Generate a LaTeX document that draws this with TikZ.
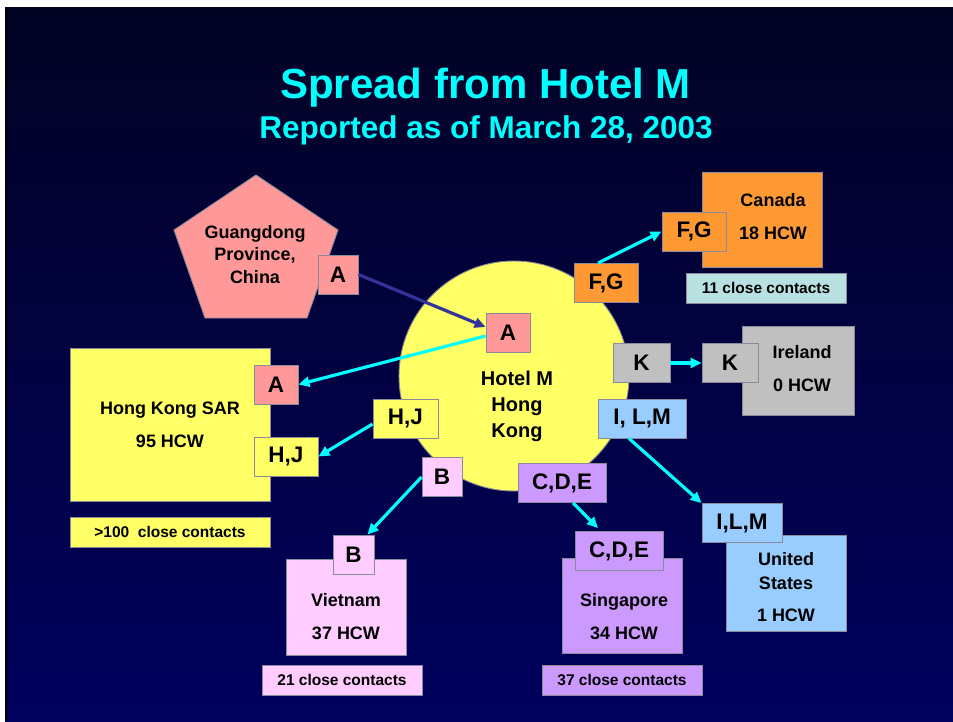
\documentclass[tikz,border=0pt]{standalone}
\usepackage{fontspec}
\setmainfont{Liberation Sans}
\usetikzlibrary{arrows.meta}
\definecolor{sarsNavyTop}{HTML}{030324}
\definecolor{sarsNavyBot}{HTML}{00005E}
\definecolor{sarsCyan}{HTML}{00FFFF}
\definecolor{sarsSalmon}{HTML}{FF9999}
\definecolor{sarsYellow}{HTML}{FFFF66}
\definecolor{sarsPink}{HTML}{FFCCFF}
\definecolor{sarsLilac}{HTML}{CC99FF}
\definecolor{sarsOrange}{HTML}{FF9933}
\definecolor{sarsGrey}{HTML}{C0C0C0}
\definecolor{sarsSky}{HTML}{99CCFF}
\definecolor{sarsMint}{HTML}{B9E1E1}
\definecolor{sarsEdge}{HTML}{8A8A9A}
\definecolor{sarsIndigo}{HTML}{333399}
\begin{document}
\begin{tikzpicture}[x=1pt,y=-1pt,>={Triangle[length=11pt,width=10pt]}]
\useasboundingbox (0,0) rectangle (953,721);
\path[fill=white] (0,0) rectangle (953,721);
\shade[top color=sarsNavyTop,bottom color=sarsNavyBot] (5,7) rectangle (953,721); \path[fill=black] (5,7) rectangle (7,721);
\tikzset{tag/.style={draw=sarsEdge,line width=0.9pt,inner sep=0pt,minimum height=39pt,font=\bfseries\fontsize{22.5}{26}\selectfont},region/.style={draw=sarsEdge,line width=0.9pt,inner sep=0pt},contacts/.style={draw=sarsEdge,line width=0.9pt,inner sep=0pt,minimum height=30pt,font=\bfseries\fontsize{15.5}{18}\selectfont},caption/.style={inner sep=0pt,align=center,font=\bfseries\fontsize{18}{33}\selectfont},spread/.style={draw=sarsCyan,line width=3.2pt}}
\node[anchor=base,text=sarsCyan,font=\bfseries\fontsize{42}{48}\selectfont] (title) at (485.5,98) {Spread from Hotel M};
\node[anchor=base,text=sarsCyan,font=\bfseries\fontsize{31.5}{36}\selectfont] (subtitle) at (486,138) {Reported as of March 28, 2003};
\draw[draw=sarsEdge,fill=sarsSalmon,line width=0.9pt] (256,175) -- (338,230) -- (307,318) -- (205,318) -- (174,230) -- cycle;
\node[caption,font=\bfseries\fontsize{18}{22.5}\selectfont] (gdText) at (255,254.5) {Guangdong\\Province,\\China};
\node[tag,fill=sarsSalmon,minimum width=40pt] (gdA) at (338,274.5) {A};
\node[circle,draw=sarsEdge,fill=sarsYellow,line width=0.9pt,minimum size=230pt,inner sep=0pt] (hotel) at (514,376) {};
\node[inner sep=0pt,align=center,font=\bfseries\fontsize{20}{26}\selectfont] (hotelText) at (517,406) {Hotel M\\Hong\\Kong};
\node[region,fill=sarsYellow,minimum width=200pt,minimum height=153pt] (hk) at (170,424.5) {}; \node[caption] (hkText) at (170,425) {Hong Kong SAR\\95 HCW};
\node[contacts,fill=sarsYellow,minimum width=200pt] (hkContacts) at (170,532) {>100~ close contacts};
\node[tag,fill=sarsSalmon,minimum width=44pt] (hkA) at (276,384.5) {A}; \node[tag,fill=sarsYellow,minimum width=64pt] (hkHJ) at (286,456.5) {H,J};
\node[region,fill=sarsPink,minimum width=120pt,minimum height=96pt] (vn) at (346,607) {}; \node[caption] (vnText) at (346,616.5) {Vietnam\\37 HCW};
\node[contacts,fill=sarsPink,minimum width=160pt] (vnContacts) at (342,680) {21 close contacts}; \node[tag,fill=sarsPink,minimum width=41pt] (vnB) at (353.5,554.5) {B};
\node[region,fill=sarsLilac,minimum width=120pt,minimum height=95pt] (sg) at (622,605.5) {}; \node[caption] (sgText) at (624,616.5) {Singapore\\34 HCW};
\node[contacts,fill=sarsLilac,minimum width=160pt] (sgContacts) at (622,680) {37 close contacts}; \node[tag,fill=sarsLilac,minimum width=88pt] (sgCDE) at (619,551) {C,D,E};
\node[region,fill=sarsOrange,minimum width=120pt,minimum height=95pt] (ca) at (762,219.5) {}; \node[caption] (caText) at (773,216.5) {Canada\\18 HCW};
\node[contacts,fill=sarsMint,minimum width=160pt] (caContacts) at (766,288) {11 close contacts}; \node[tag,fill=sarsOrange,minimum width=64pt] (caFG) at (694,231.5) {F,G};
\node[region,fill=sarsGrey,minimum width=112pt,minimum height=89pt] (ie) at (798,370.5) {}; \node[caption] (ieText) at (802,368.5) {Ireland\\0 HCW};
\node[tag,fill=sarsGrey,minimum width=56pt] (ieK) at (730,363) {K};
\node[region,fill=sarsSky,minimum width=120pt,minimum height=96pt] (us) at (786,583) {}; \node[caption,font=\bfseries\fontsize{18}{24}\selectfont] (usText) at (786,587) {United\\States\\[8pt]1 HCW};
\node[tag,fill=sarsSky,minimum width=80pt] (usILM) at (742,523) {I,L,M};
\node[tag,fill=sarsSalmon,minimum width=44pt] (hmA) at (508,333) {A}; \node[tag,fill=sarsYellow,minimum width=65pt] (hmHJ) at (405.5,418.5) {H,J};
\node[tag,fill=sarsPink,minimum width=40pt] (hmB) at (442,477) {B}; \node[tag,fill=sarsLilac,minimum width=88pt] (hmCDE) at (562,483) {C,D,E};
\node[tag,fill=sarsOrange,minimum width=64pt] (hmFG) at (606,283) {F,G}; \node[tag,fill=sarsGrey,minimum width=57pt] (hmK) at (641.5,363) {K};
\node[tag,fill=sarsSky,minimum width=88pt] (hmILM) at (642,418.5) {I, L,M};
\draw[draw=sarsIndigo,line width=3.2pt,->] (gdA.east) -- ([yshift=6pt]hmA.west);
\draw[spread,->] ([yshift=-3pt]hmA.west) -- (hkA.east); \draw[spread,->] ([yshift=-5.5pt]hmHJ.west) -- (hkHJ.east);
\draw[spread,->] (hmB.west) -- ([xshift=-7pt]vnB.north east); \draw[spread,->] ([xshift=11pt]hmCDE.south) -- ([xshift=-21pt,yshift=3pt]sgCDE.north);
\draw[spread,->] ([xshift=-8pt]hmFG.north) -- (caFG.west); \draw[spread,->] (hmK.east) -- (ieK.west);
\draw[spread,->] ([xshift=-13pt]hmILM.south) -- (usILM.north west);
\end{tikzpicture}
\end{document}
